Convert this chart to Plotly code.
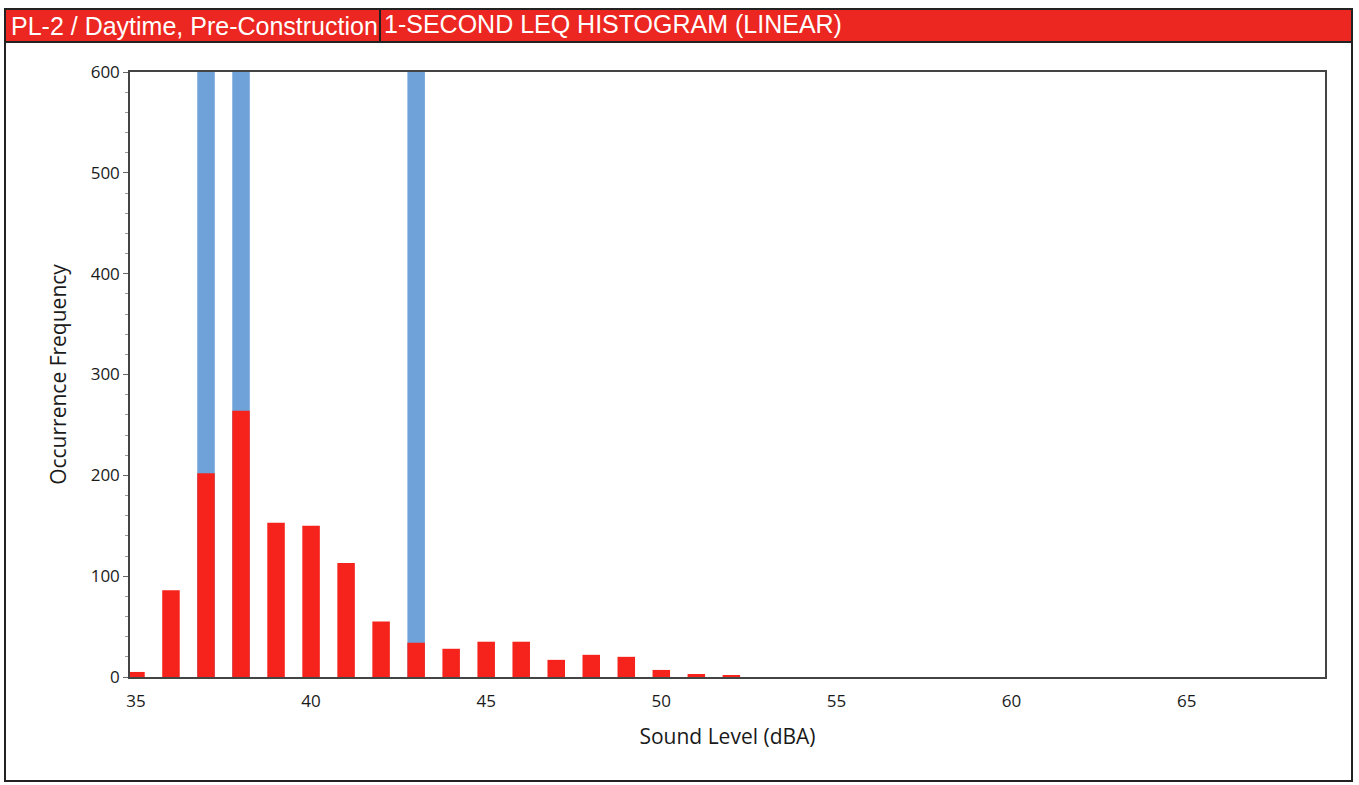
import plotly.graph_objects as go

levels = list(range(35, 53))
red_counts = [5, 86, 202, 264, 153, 150, 113, 55, 34, 28, 35, 35, 17, 22, 20, 7, 3, 2]
blue_levels = [37, 38, 43]
blue_counts = [900, 900, 900]

title_left = "PL-2 / Daytime, Pre-Construction"
title_right = "1-SECOND LEQ HISTOGRAM (LINEAR)"
x_ticks = [35, 40, 45, 50, 55, 60, 65]
y_ticks = [0, 100, 200, 300, 400, 500, 600]

W, H = 1359, 785
L, R, T, B = 130, 34, 72, 108
pw, ph = W - L - R, H - T - B

def px(x):
    return (x - L) / pw

def py(y):
    return 1 - (y - T) / ph

fig = go.Figure()
fig.add_trace(go.Bar(x=blue_levels, y=blue_counts, width=0.5,
                     marker=dict(color="#6fa2d9", line=dict(width=0)), showlegend=False))
fig.add_trace(go.Bar(x=levels, y=red_counts, width=0.5,
                     marker=dict(color="#f5231c", line=dict(width=0)), showlegend=False))

shapes = [
    dict(type="rect", xref="paper", yref="paper", x0=px(5), x1=px(1352), y0=py(781), y1=py(9),
         line=dict(color="#222", width=2), fillcolor="rgba(0,0,0,0)", layer="below"),
    dict(type="rect", xref="paper", yref="paper", x0=px(5), x1=px(1352), y0=py(42), y1=py(9),
         line=dict(color="#222", width=2), fillcolor="#ec2620", layer="below"),
    dict(type="line", xref="paper", yref="paper", x0=px(380), x1=px(380), y0=py(42), y1=py(9),
         line=dict(color="#222", width=2)),
]

annotations = [
    dict(text=title_left, xref="paper", yref="paper", x=px(9), y=py(26), xanchor="left", yanchor="middle",
         showarrow=False, font=dict(family="Liberation Sans", size=25, color="white")),
    dict(text=title_right, xref="paper", yref="paper", x=px(382), y=py(24), xanchor="left", yanchor="middle",
         showarrow=False, font=dict(family="Liberation Sans", size=25, color="white")),
]

fig.update_layout(
    width=W, height=H,
    margin=dict(l=L, r=R, t=T, b=B),
    paper_bgcolor="white", plot_bgcolor="white",
    barmode="overlay",
    shapes=shapes, annotations=annotations,
    font=dict(family="Open Sans, Liberation Sans", size=17, color="#1a1a1a"),
    xaxis=dict(range=[34.83, 68.95], tickvals=x_ticks, showgrid=False, zeroline=False,
               showline=True, mirror=True, linecolor="#444", linewidth=1.5,
               ticks="", ticklabelstandoff=8,
               title=dict(text="Sound Level (dBA)", font=dict(size=21), standoff=18)),
    yaxis=dict(range=[0, 600], tickvals=y_ticks, showgrid=False, zeroline=False,
               showline=True, mirror=True, linecolor="#444", linewidth=1.5,
               ticks="outside", ticklen=5, tickcolor="#666",
               minor=dict(dtick=20, ticks="outside", ticklen=3, tickcolor="#999"),
               title=dict(text="Occurrence Frequency", font=dict(size=21), standoff=18)),
)

fig.write_html("out.html")
